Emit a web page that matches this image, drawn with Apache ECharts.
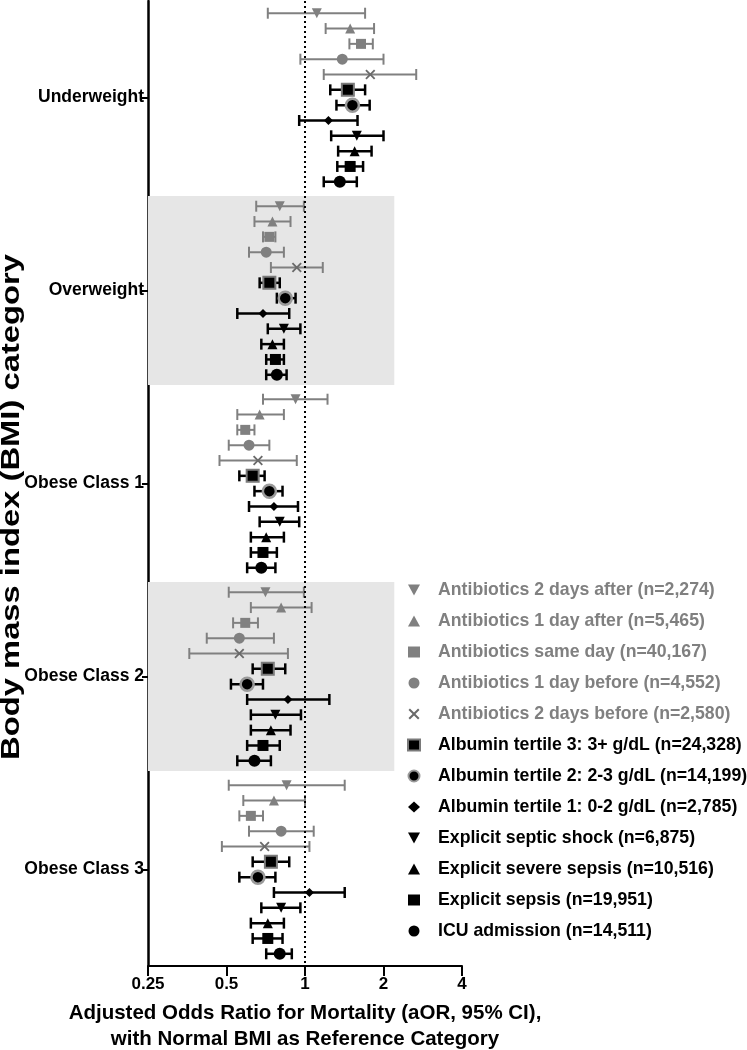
<!DOCTYPE html>
<html>
<head>
<meta charset="utf-8">
<script src="https://cdn.jsdelivr.net/npm/echarts@6/dist/echarts.min.js"></script>
<style>
html,body{margin:0;padding:0;background:#fff;}
#chart{width:747px;height:1050px;}
</style>
</head>
<body>
<div id="chart"></div>
<script>
// ---- data ----
const categories = ['Underweight', 'Overweight', 'Obese Class 1', 'Obese Class 2', 'Obese Class 3'];
const xTicks = [0.25, 0.5, 1, 2, 4];
const seriesNames = [
  'Antibiotics 2 days after (n=2,274)',
  'Antibiotics 1 day after (n=5,465)',
  'Antibiotics same day (n=40,167)',
  'Antibiotics 1 day before (n=4,552)',
  'Antibiotics 2 days before (n=2,580)',
  'Albumin tertile 3: 3+ g/dL (n=24,328)',
  'Albumin tertile 2: 2-3 g/dL (n=14,199)',
  'Albumin tertile 1: 0-2 g/dL (n=2,785)',
  'Explicit septic shock (n=6,875)',
  'Explicit severe sepsis (n=10,516)',
  'Explicit sepsis (n=19,951)',
  'ICU admission (n=14,511)'
];
// [lower CI, aOR, upper CI] per BMI category
const abx2DaysAfter  = [[0.72,1.11,1.70],[0.65,0.80,0.99],[0.69,0.92,1.22],[0.51,0.705,0.99],[0.51,0.85,1.42]];
const abx1DayAfter   = [[1.20,1.49,1.84],[0.64,0.75,0.88],[0.55,0.67,0.83],[0.62,0.81,1.06],[0.58,0.76,1.00]];
const abxSameDay     = [[1.48,1.64,1.82],[0.69,0.73,0.77],[0.55,0.59,0.64],[0.53,0.59,0.66],[0.56,0.62,0.69]];
const abx1DayBefore  = [[0.96,1.39,2.00],[0.61,0.71,0.83],[0.51,0.61,0.73],[0.42,0.56,0.76],[0.61,0.81,1.08]];
const abx2DaysBefore = [[1.18,1.78,2.67],[0.74,0.93,1.17],[0.47,0.66,0.93],[0.36,0.56,0.86],[0.48,0.70,1.04]];
const albTertile3    = [[1.25,1.46,1.70],[0.67,0.73,0.80],[0.56,0.63,0.70],[0.63,0.72,0.84],[0.63,0.74,0.87]];
const albTertile2    = [[1.32,1.52,1.77],[0.78,0.84,0.92],[0.64,0.73,0.82],[0.52,0.60,0.69],[0.56,0.66,0.77]];
const albTertile1    = [[0.95,1.23,1.59],[0.55,0.69,0.87],[0.61,0.76,0.94],[0.60,0.86,1.24],[0.76,1.04,1.42]];
const septicShock    = [[1.26,1.58,2.00],[0.72,0.83,0.96],[0.67,0.80,0.95],[0.62,0.77,0.965],[0.68,0.81,0.96]];
const severeSepsis   = [[1.34,1.55,1.80],[0.68,0.75,0.83],[0.62,0.71,0.83],[0.62,0.74,0.88],[0.62,0.72,0.83]];
const explicitSepsis = [[1.33,1.49,1.67],[0.71,0.77,0.83],[0.62,0.69,0.78],[0.60,0.69,0.80],[0.63,0.72,0.82]];
const icuAdmission   = [[1.18,1.36,1.58],[0.71,0.78,0.85],[0.60,0.68,0.77],[0.55,0.64,0.74],[0.71,0.80,0.89]];
const allSeries = [abx2DaysAfter, abx1DayAfter, abxSameDay, abx1DayBefore, abx2DaysBefore,
  albTertile3, albTertile2, albTertile1, septicShock, severeSepsis, explicitSepsis, icuAdmission];
const shadedCategories = ['Overweight', 'Obese Class 2'];

// ---- styles ----
const GREY = '#808080';
const triDown = 'path://M0,0 L10,0 L5,9 Z';
const xMark = 'path://M1.3,0 L5,3.7 L8.7,0 L10,1.3 L6.3,5 L10,8.7 L8.7,10 L5,6.3 L1.3,10 L0,8.7 L3.7,5 L0,1.3 Z';
const styles = [
  {symbol: triDown, size: 10, color: GREY, bar: GREY, w: 2},
  {symbol: 'triangle', size: 10, color: GREY, bar: GREY, w: 2},
  {symbol: 'rect', size: 10, color: GREY, bar: GREY, w: 2},
  {symbol: 'circle', size: 11, color: GREY, bar: GREY, w: 2},
  {symbol: xMark, size: 10, color: '#6a6a6a', bar: GREY, w: 2},
  {symbol: 'rect', size: 12, color: '#000', border: '#7a7a7a', bw: 2, bar: '#000', w: 2.5},
  {symbol: 'circle', size: 13, color: '#000', border: '#9a9a9a', bw: 2.5, bar: '#000', w: 2.5},
  {symbol: 'diamond', size: 9, color: '#000', bar: '#000', w: 2.5},
  {symbol: triDown, size: 10, color: '#000', bar: '#000', w: 2.5},
  {symbol: 'triangle', size: 10, color: '#000', bar: '#000', w: 2.5},
  {symbol: 'rect', size: 11, color: '#000', bar: '#000', w: 2.5},
  {symbol: 'circle', size: 12, color: '#000', bar: '#000', w: 2.5}
];
const ROW_STEP = 0.0794; // vertical spacing of the 12 rows within a category band
const FONT = '"Liberation Sans", Arial, sans-serif';

const series = [];
// shaded bands + reference line
series.push({
  type: 'scatter', name: '_bands', yAxisIndex: 1, data: [], z: 1, silent: true,
  markArea: {
    silent: true,
    itemStyle: {color: '#e6e6e6'},
    data: shadedCategories.map(c => {
      const i = categories.indexOf(c);
      return [{xAxis: 0.25, yAxis: i - 0.49}, {xAxis: 2.2, yAxis: i + 0.49}];
    })
  },
  markLine: {
    silent: true, symbol: ['none', 'none'], label: {show: false},
    lineStyle: {color: '#000', type: [2, 3], width: 2},
    data: [{xAxis: 1}]
  }
});

allSeries.forEach((arr, k) => {
  const st = styles[k];
  const off = (k - 5.5) * ROW_STEP;
  const ci = arr.map((t, i) => [t[0], t[2], i + off]);
  const pts = arr.map((t, i) => [t[1], i + off]);
  series.push({
    type: 'custom', name: seriesNames[k] + ' CI', yAxisIndex: 1, z: 2, silent: true,
    data: ci,
    encode: {x: [0, 1], y: 2},
    renderItem: function (params, api) {
      const y = api.value(2);
      const p1 = api.coord([api.value(0), y]);
      const p2 = api.coord([api.value(1), y]);
      const h = 5.5;
      const ls = {stroke: st.bar, lineWidth: st.w};
      return {type: 'group', children: [
        {type: 'line', shape: {x1: p1[0], y1: p1[1], x2: p2[0], y2: p2[1]}, style: ls},
        {type: 'line', shape: {x1: p1[0], y1: p1[1] - h, x2: p1[0], y2: p1[1] + h}, style: ls},
        {type: 'line', shape: {x1: p2[0], y1: p2[1] - h, x2: p2[0], y2: p2[1] + h}, style: ls}
      ]};
    }
  });
  series.push({
    type: 'scatter', name: seriesNames[k], yAxisIndex: 1, z: 3, silent: true,
    symbol: st.symbol, symbolSize: st.size,
    itemStyle: Object.assign({color: st.color, opacity: 1},
      st.border ? {borderColor: st.border, borderWidth: st.bw} : {}),
    data: pts
  });
});

const chart = echarts.init(document.getElementById('chart'), null, {renderer: 'canvas'});
chart.setOption({
  animation: false,
  backgroundColor: '#fff',
  grid: {left: 148, right: 285, top: 1, bottom: 84, containLabel: false, outerBoundsMode: 'none'},
  xAxis: {
    type: 'log', logBase: 2, min: xTicks[0], max: xTicks[xTicks.length - 1], interval: 1,
    position: 'bottom',
    axisLine: {onZero: false, lineStyle: {color: '#000', width: 2}},
    axisTick: {show: true, length: 10, lineStyle: {color: '#000', width: 2}},
    splitLine: {show: false},
    axisLabel: {
      color: '#000', fontWeight: 'bold', fontSize: 17, fontFamily: FONT, margin: 10,
      formatter: v => String(+(+v).toPrecision(6))
    },
    name: 'Adjusted Odds Ratio for Mortality (aOR, 95% CI),\nwith Normal BMI as Reference Category',
    nameLocation: 'middle', nameGap: 34,
    nameTextStyle: {color: '#000', fontWeight: 'bold', fontSize: 20.5, fontFamily: FONT, lineHeight: 26, verticalAlign: 'top'}
  },
  yAxis: [
    {
      type: 'category', data: categories, inverse: true, position: 'left',
      axisLine: {onZero: false, lineStyle: {color: '#000', width: 2.5}},
      axisTick: {show: true, alignWithLabel: true, length: 6, lineStyle: {color: '#000', width: 2}},
      axisLabel: {color: '#000', fontWeight: 'bold', fontSize: 17.5, fontFamily: FONT, margin: 4},
      splitLine: {show: false}
    },
    {type: 'value', min: -0.5, max: 4.5, inverse: true, show: false}
  ],
  legend: {
    orient: 'vertical', left: 402, top: 575,
    itemWidth: 12, itemHeight: 11, itemGap: 11,
    selectedMode: false,
    textStyle: {fontWeight: 'bold', fontSize: 17.7, fontFamily: FONT, lineHeight: 20, padding: [0, 0, 0, 13]},
    data: seriesNames.map((n, k) => ({name: n, textStyle: {color: k < 5 ? GREY : '#000'}}))
  },
  graphic: [{
    type: 'text', x: 12, y: 507, rotation: Math.PI / 2, scaleX: 1.31,
    style: {
      text: 'Body mass index (BMI) category', font: 'bold 25px ' + FONT, fill: '#000',
      textAlign: 'center', textVerticalAlign: 'middle', align: 'center', verticalAlign: 'middle'
    }
  }],
  series: series
});
</script>
</body>
</html>
